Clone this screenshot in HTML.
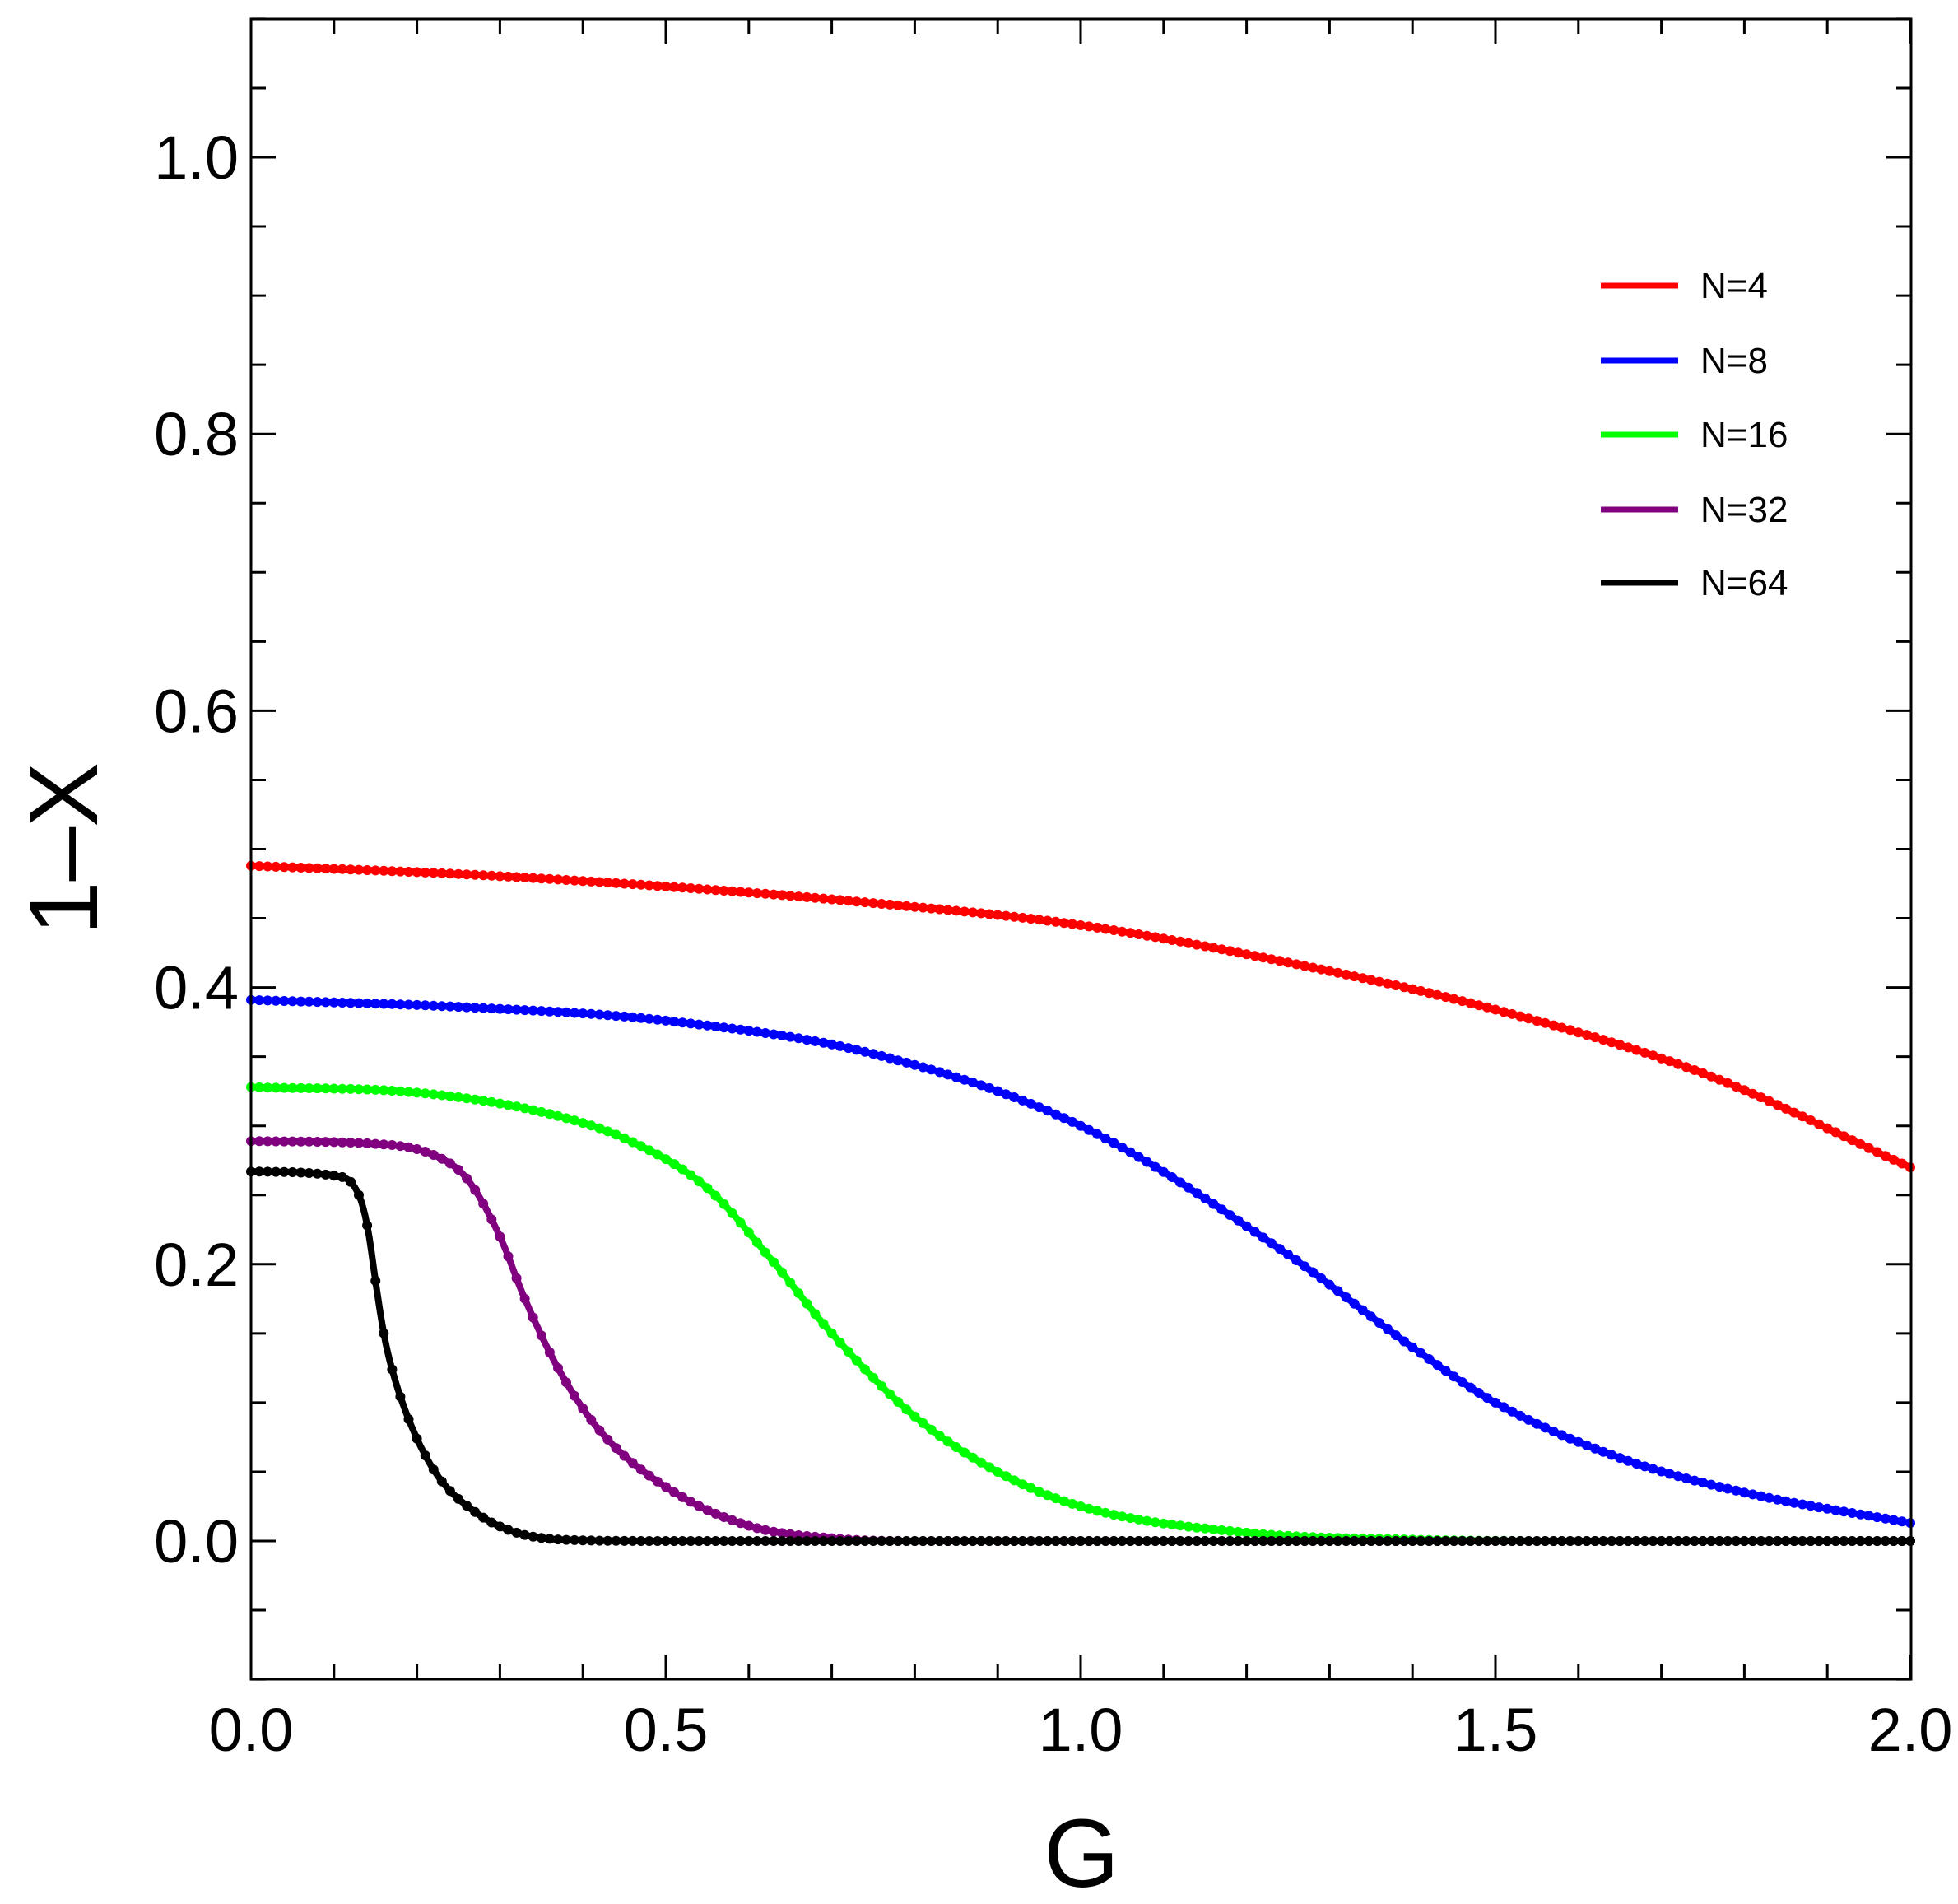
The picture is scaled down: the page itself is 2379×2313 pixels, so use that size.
<!DOCTYPE html>
<html><head><meta charset="utf-8"><style>html,body{margin:0;padding:0;background:#fff}svg{display:block}</style></head>
<body>
<svg id="s" width="2379" height="2313" viewBox="0 0 2379 2313" xmlns="http://www.w3.org/2000/svg" font-family="Liberation Sans, Arial, sans-serif">
<rect width="2379" height="2313" fill="#fff"/>
<g id="curves"></g>
<rect x="305" y="23" width="2017" height="2017" fill="none" stroke="#000" stroke-width="3"/>
<g id="ticks" stroke="#000" stroke-width="3"></g>
<g id="labels" font-size="74" fill="#000"></g>
<text x="1314" y="2292" font-size="118" text-anchor="middle">G</text>
<text transform="translate(118,1031) rotate(-90)" font-size="118" text-anchor="middle">1–X</text>
<g font-size="44">
<line x1="1945" y1="347" x2="2039" y2="347" stroke="#f00" stroke-width="7"/><text x="2066" y="362">N=4</text>
<line x1="1945" y1="438" x2="2039" y2="438" stroke="#00f" stroke-width="7"/><text x="2066" y="453">N=8</text>
<line x1="1945" y1="528" x2="2039" y2="528" stroke="#0f0" stroke-width="7"/><text x="2066" y="543">N=16</text>
<line x1="1945" y1="619" x2="2039" y2="619" stroke="#800080" stroke-width="7"/><text x="2066" y="634">N=32</text>
<line x1="1945" y1="708" x2="2039" y2="708" stroke="#000" stroke-width="7"/><text x="2066" y="723">N=64</text>
</g>
</svg>
<script>
var NS="http://www.w3.org/2000/svg";
function X(g){return 305+g*1008}
function Y(v){return 1872-v*1681}
function el(p,n,a,t){var e=document.createElementNS(NS,n);for(var k in a)e.setAttribute(k,a[k]);if(t!=null)e.textContent=t;p.appendChild(e);return e}
var T=document.getElementById('ticks'),L=document.getElementById('labels');
for(var i=0;i<=20;i++){var g=i/10,x=X(g),maj=i%5==0,len=maj?30:18;
 el(T,'line',{x1:x,y1:2040,x2:x,y2:2040-len});el(T,'line',{x1:x,y1:23,x2:x,y2:23+len});
 if(maj)el(L,'text',{x:x,y:2127,'text-anchor':'middle'},g.toFixed(1));}
for(var i=-2;i<=22;i++){var v=i*0.05,y=Y(v),maj=i%4==0,len=maj?30:18;
 el(T,'line',{x1:305,y1:y,x2:305+len,y2:y});el(T,'line',{x1:2322,y1:y,x2:2322-len,y2:y});
 if(maj&&v>=0&&v<=1.01)el(L,'text',{x:290,y:y+26,'text-anchor':'end'},v.toFixed(1));}
function mono(P){var n=P.length,xs=P.map(p=>p[0]),ys=P.map(p=>p[1]),d=[],m=[];
 for(var i=0;i<n-1;i++)d.push((ys[i+1]-ys[i])/(xs[i+1]-xs[i]));
 m[0]=d[0];m[n-1]=d[n-2];for(var i=1;i<n-1;i++){m[i]=(d[i-1]*d[i]<=0)?0:(d[i-1]+d[i])/2;}
 for(var i=0;i<n-1;i++){if(d[i]==0){m[i]=0;m[i+1]=0;continue}var a=m[i]/d[i],b=m[i+1]/d[i],h=a*a+b*b;if(h>9){var t=3/Math.sqrt(h);m[i]=t*a*d[i];m[i+1]=t*b*d[i];}}
 return function(x){var i=0;while(i<n-2&&x>xs[i+1])i++;var h=xs[i+1]-xs[i],t=(x-xs[i])/h,t2=t*t,t3=t2*t;
  return (2*t3-3*t2+1)*ys[i]+(t3-2*t2+t)*h*m[i]+(-2*t3+3*t2)*ys[i+1]+(t3-t2)*h*m[i+1];}}
var S=[
["#000",[[0,.267],[0.1,.264],[0.13,.25],[0.141,.225],[0.15,.188],[0.16,.15],[0.17,.124],[0.192,.085],[0.224,.048],[0.27,.021],[0.32,.006],[0.4,.0005],[0.5,0],[2,0]]],
["#800080",[[0,.289],[0.15,.287],[0.22,.279],[0.26,.262],[0.3,.22],[0.33,.175],[0.37,.125],[0.42,.08],[0.5,.039],[0.6,.011],[0.7,.002],[0.8,0],[2,0]]],
["#0f0",[[0,.328],[0.2,.324],[0.35,.31],[0.45,.291],[0.55,.255],[0.625,.205],[0.7,.15],[0.8,.09],[0.9,.05],[1.0,.025],[1.2,.006],[1.4,.001],[1.6,0],[2,0]]],
["#00f",[[0,.391],[0.25,.386],[0.5,.376],[0.75,.352],[1.0,.300],[1.25,.207],[1.4,.14],[1.5,.10],[1.65,.06],[1.8,.035],[2.0,.013]]],
["#f00",[[0,.488],[0.25,.482],[0.5,.473],[0.75,.461],[1.0,.445],[1.25,.418],[1.5,.384],[1.75,.338],[2.0,.27]]]];
var C=document.getElementById('curves');
S.reverse().forEach(function(s){var f=mono(s[1]),d="";
 for(var k=0;k<=800;k++){var g=k/400;d+=(k?"L":"M")+X(g).toFixed(1)+" "+Y(f(g)).toFixed(1);}
 el(C,'path',{d:d,fill:'none',stroke:s[0],'stroke-width':8});
 var gp=el(C,'g',{fill:s[0]});
 for(var k=0;k<=200;k++){var g=k/100;el(gp,'circle',{cx:X(g).toFixed(1),cy:Y(f(g)).toFixed(1),r:6});}
});
</script>
</body></html>
